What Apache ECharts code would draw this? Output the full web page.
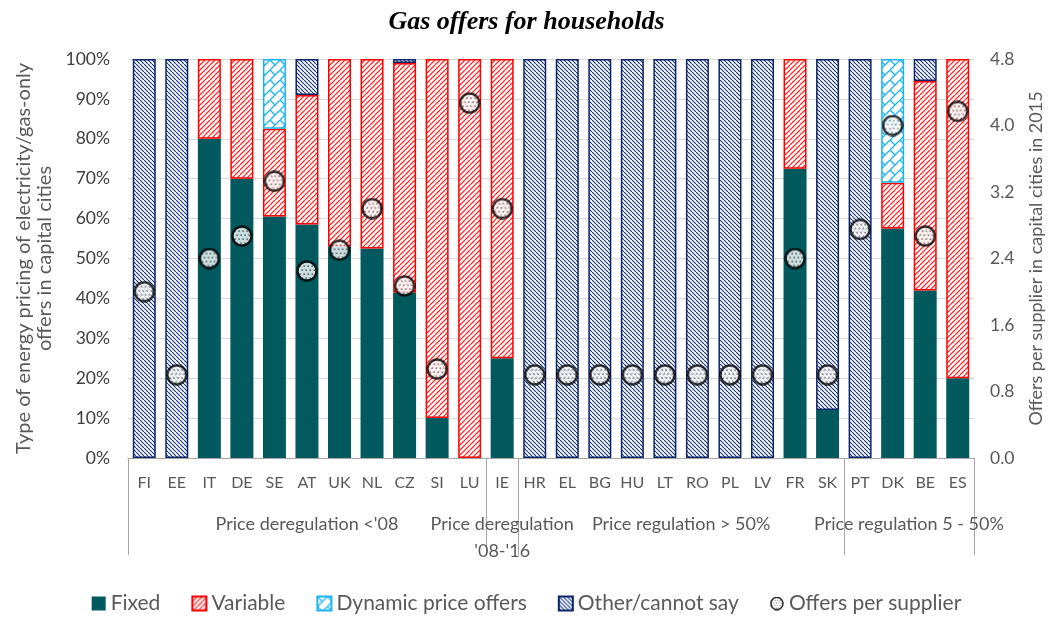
<!DOCTYPE html>
<html>
<head>
<meta charset="utf-8">
<script src="https://cdn.jsdelivr.net/npm/echarts@6/dist/echarts.min.js"></script>
<style>
  html, body { margin: 0; padding: 0; background: #fff; }
  #main { width: 1053px; height: 624px; }
</style>
</head>
<body>
<div id="main"></div>
<script>
// countries and regulation groups
const countries = ['FI', 'EE', 'IT', 'DE', 'SE', 'AT', 'UK', 'NL', 'CZ', 'SI', 'LU', 'IE', 'HR', 'EL', 'BG', 'HU', 'LT', 'RO', 'PL', 'LV', 'FR', 'SK', 'PT', 'DK', 'BE', 'ES']
const groupNames = ["Price deregulation <'08", "Price deregulation\n'08-'16", 'Price regulation > 50%', 'Price regulation 5 - 50%']
const groupSizes = [11, 1, 10, 4]

// share of offers (%) by pricing type
const fixed    = [0, 0, 80, 70, 60.5, 58.5, 53, 52.5, 41.5, 10, 0, 25, 0, 0, 0, 0, 0, 0, 0, 0, 72.5, 12, 0, 57.5, 42, 20]
const variable = [0, 0, 20, 30, 22, 32.5, 47, 47.5, 57.5, 90, 100, 75, 0, 0, 0, 0, 0, 0, 0, 0, 27.5, 0, 0, 11.5, 52.5, 80]
const dynamic  = [0, 0, 0, 0, 17.5, 0, 0, 0, 0, 0, 0, 0, 0, 0, 0, 0, 0, 0, 0, 0, 0, 0, 0, 31, 0, 0]
const other    = [100, 100, 0, 0, 0, 9, 0, 0, 1, 0, 0, 0, 100, 100, 100, 100, 100, 100, 100, 100, 0, 88, 100, 0, 5.5, 0]

// offers per supplier in capital cities in 2015
const offers = [2.0, 1.0, 2.4, 2.67, 3.33, 2.25, 2.5, 3.0, 2.07, 1.07, 4.27, 3.0, 1, 1, 1, 1, 1, 1, 1, 1, 2.4, 1, 2.75, 4.0, 2.67, 4.17]

const leftTicks = { min: 0, max: 100, interval: 10 }
const rightTicks = { min: 0, max: 4.8, interval: 0.8 }

const grey = '#595959'
const font = 'Lato, "Open Sans", sans-serif'

// little canvases used as fill patterns
function hatch (fg, step, lw, dir) {
    const c = document.createElement('canvas')
    c.width = step
    c.height = step
    const ctx = c.getContext('2d')
    ctx.fillStyle = '#fff'
    ctx.fillRect(0, 0, step, step)
    ctx.strokeStyle = fg
    ctx.lineWidth = lw
    ctx.beginPath()
    for (let k = -1; k <= 1; k++) {
        if (dir === '/') {
            ctx.moveTo(k * step, step)
            ctx.lineTo(k * step + step, 0)
        } else {
            ctx.moveTo(k * step, 0)
            ctx.lineTo(k * step + step, step)
        }
    }
    ctx.stroke()
    return c
}

function lattice (fg) {
    const s = 10
    const c = document.createElement('canvas')
    c.width = s
    c.height = s
    const ctx = c.getContext('2d')
    ctx.fillStyle = '#fff'
    ctx.fillRect(0, 0, s, s)
    ctx.strokeStyle = fg
    ctx.lineWidth = 1.3
    ctx.beginPath()
    ctx.moveTo(0, s)
    ctx.lineTo(s, 0)
    ctx.moveTo(0, 0)
    ctx.lineTo(s / 2, s / 2)
    ctx.stroke()
    return c
}

// dotted marker for the offers series, drawn once at double size
function dotMarker () {
    const s = 44
    const c = document.createElement('canvas')
    c.width = s
    c.height = s
    const ctx = c.getContext('2d')
    ctx.beginPath()
    ctx.arc(s / 2, s / 2, s / 2 - 3, 0, Math.PI * 2)
    ctx.fillStyle = '#fff'
    ctx.fill()
    ctx.save()
    ctx.clip()
    ctx.fillStyle = '#111'
    for (let y = 3; y < s; y += 8) {
        for (let x = (y % 16 === 3 ? 3 : 7); x < s; x += 8) {
            ctx.fillRect(x, y, 2.5, 2.5)
        }
    }
    ctx.restore()
    ctx.lineWidth = 5
    ctx.strokeStyle = '#000'
    ctx.stroke()
    return 'image://' + c.toDataURL()
}

const varFill = { image: hatch('#ff2a2a', 5, 1.3, '/'), repeat: 'repeat' }
const dynFill = { image: lattice('#1cb4ef'), repeat: 'repeat' }
const otherFill = { image: hatch('#1f3a80', 4, 1.2, '\\'), repeat: 'repeat' }
const dotSymbol = dotMarker()

const nz = arr => arr.map(v => v === 0 ? '-' : v)

// second bottom axis: half-category points, used for group labels and separators
const halfCount = countries.length * 2 + 1
const groupAxis = new Array(halfCount).fill('')
const groupEdges = [0]
let acc = 0
groupSizes.forEach((n, i) => {
    groupAxis[acc + n] = groupNames[i]   // centre of the group in half units
    acc += n * 2
    groupEdges.push(acc)
})

let myChart = echarts.init(document.getElementById('main'))
let option = {
    animation: false,
    title: {
        text: 'Gas offers for households',
        left: 'center',
        top: 4,
        textStyle: {
            fontFamily: '"Liberation Serif", serif',
            fontStyle: 'italic',
            fontWeight: 'bold',
            fontSize: 26,
            color: '#000'
        }
    },
    legend: {
        bottom: 5,
        left: 'center',
        itemWidth: 14,
        itemHeight: 14,
        itemGap: 31,
        textStyle: { fontFamily: font, fontSize: 21, color: grey },
        data: [
            { name: 'Fixed', icon: 'rect' },
            { name: 'Variable', icon: 'rect' },
            { name: 'Dynamic price offers', icon: 'rect' },
            { name: 'Other/cannot say', icon: 'rect' },
            { name: 'Offers per supplier', icon: dotSymbol }
        ]
    },
    grid: { left: 128, right: 73, top: 59, bottom: 166 },
    xAxis: [{
        type: 'category',
        data: countries,
        position: 'bottom',
        axisLine: { lineStyle: { color: '#a6a6a6' } },
        axisTick: { show: false },
        axisLabel: { color: grey, fontFamily: font, fontSize: 16, margin: 17, interval: 0 }
    }, {
        type: 'category',
        data: groupAxis,
        boundaryGap: false,
        position: 'bottom',
        axisLine: { show: false },
        axisTick: {
            show: true,
            length: 97,
            interval: (i) => groupEdges.includes(i),
            lineStyle: { color: '#a6a6a6' }
        },
        axisLabel: {
            color: grey,
            fontFamily: font,
            fontSize: 18,
            margin: 53,
            lineHeight: 27,
            interval: (i, v) => v !== ''
        }
    }],
    yAxis: [{
        type: 'value',
        ...leftTicks,
        name: 'Type of energy pricing of electricity/gas-only\noffers in capital cities',
        nameLocation: 'middle',
        nameGap: 67,
        nameTextStyle: { color: grey, fontFamily: font, fontSize: 20, lineHeight: 21 },
        axisLine: { show: false },
        axisTick: { show: false },
        axisLabel: { formatter: '{value}%', color: '#404040', fontFamily: font, fontSize: 17.5, margin: 18 },
        splitLine: { lineStyle: { color: '#d9d9d9' } }
    }, {
        type: 'value',
        ...rightTicks,
        name: 'Offers per supplier in capital cities in 2015',
        nameLocation: 'middle',
        nameGap: 53,
        nameTextStyle: { color: grey, fontFamily: font, fontSize: 18 },
        axisLine: { show: false },
        axisTick: { show: false },
        splitLine: { show: false },
        axisLabel: { formatter: v => v.toFixed(1), color: grey, fontFamily: font, fontSize: 17.5, margin: 16 }
    }],
    series: [{
        name: 'Fixed',
        type: 'bar',
        stack: 'share',
        barWidth: 23,
        itemStyle: { color: '#02595e' },
        data: nz(fixed)
    }, {
        name: 'Variable',
        type: 'bar',
        stack: 'share',
        itemStyle: { color: varFill, borderColor: '#ff0000', borderWidth: 1.5 },
        data: nz(variable)
    }, {
        name: 'Dynamic price offers',
        type: 'bar',
        stack: 'share',
        itemStyle: { color: dynFill, borderColor: '#1cb4ef', borderWidth: 1.5 },
        data: nz(dynamic)
    }, {
        name: 'Other/cannot say',
        type: 'bar',
        stack: 'share',
        itemStyle: { color: otherFill, borderColor: '#0b2467', borderWidth: 1.5 },
        data: nz(other)
    }, {
        name: 'Offers per supplier',
        type: 'scatter',
        yAxisIndex: 1,
        symbol: dotSymbol,
        symbolSize: 22,
        z: 5,
        data: offers
    }]
}
myChart.setOption(option)
</script>
</body>
</html>
